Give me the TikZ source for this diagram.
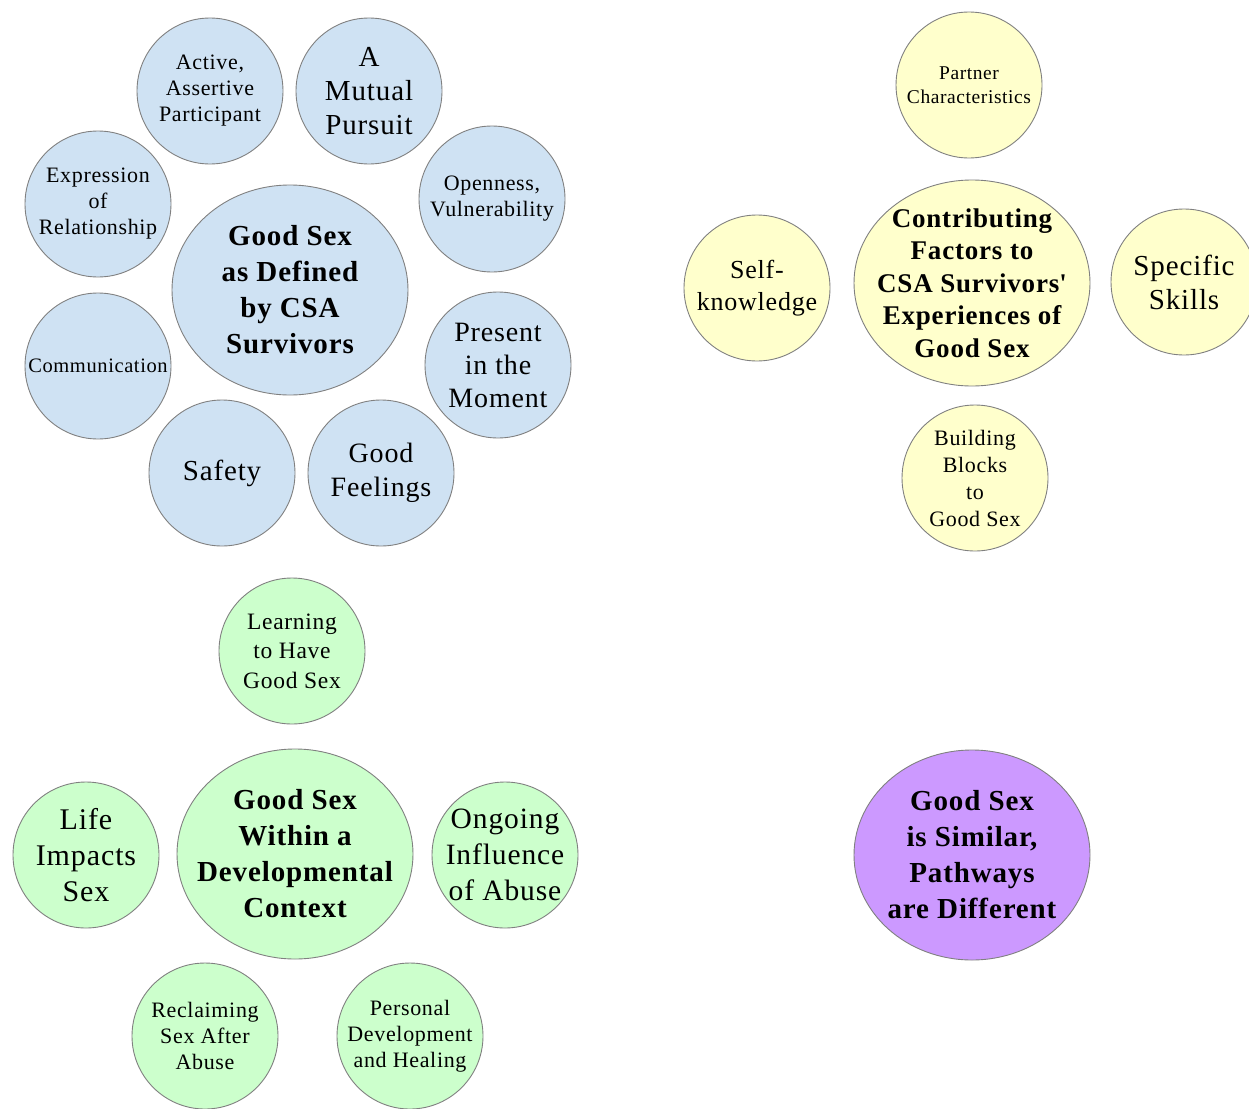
\documentclass[tikz,border=0pt]{standalone}
\usepackage{fontspec}
\setmainfont{Liberation Serif}[LetterSpace=3]
\usetikzlibrary{shapes.geometric}
\definecolor{bluefill}{RGB}{207,226,243}
\definecolor{yellowfill}{RGB}{255,255,204}
\definecolor{greenfill}{RGB}{204,255,204}
\definecolor{purplefill}{RGB}{204,153,255}
\definecolor{edgegrey}{RGB}{128,128,128}
\tikzset{
  bubble/.style={circle,draw=edgegrey,line width=0.9pt,minimum size=146pt,inner sep=-10pt,align=center,text=black},
  hub/.style={ellipse,draw=edgegrey,line width=0.9pt,minimum width=236pt,minimum height=210pt,inner xsep=-30pt,inner ysep=-30pt,align=center,font=\bfseries\fontsize{29}{36}\selectfont},
  bl/.style={fill=bluefill},
  ye/.style={fill=yellowfill},
  gr/.style={fill=greenfill},
  pu/.style={fill=purplefill},
  fs/.style={font=\fontsize{22}{26}\selectfont},
  fl/.style={font=\fontsize{29}{34}\selectfont},
}
\begin{document}
\begin{tikzpicture}[x=1pt,y=-1pt]
\useasboundingbox (0,0) rectangle (1249,1108);
% Blue group
\node[hub,bl] (bc) at (290,290) {Good Sex\\as Defined\\by CSA\\Survivors};
\node[bubble,bl,fs] (b1) at (210,91) {Active,\\Assertive\\Participant};
\node[bubble,bl,fl] (b2) at (369,91) {A\\Mutual\\Pursuit};
\node[bubble,bl,fs] (b3) at (492,199) {Openness,\\Vulnerability};
\node[bubble,bl,fs] (b4) at (98,204) {Expression\\of\\Relationship};
\node[bubble,bl,font=\fontsize{20.5}{24}\selectfont] (b5) at (98,366) {Communication};
\node[bubble,bl,font=\fontsize{28}{33}\selectfont] (b6) at (498,365) {Present\\in the\\Moment};
\node[bubble,bl,fl] (b7) at (222,473) {Safety};
\node[bubble,bl,font=\fontsize{28}{34}\selectfont] (b8) at (381,473) {Good\\Feelings};
% Yellow group
\node[hub,ye,font=\bfseries\fontsize{27}{32.5}\selectfont,minimum height=206pt] (yc) at (972,283) {Contributing\\Factors to\\CSA Survivors\textquotesingle\\Experiences of\\Good Sex};
\node[bubble,ye,font=\fontsize{19.5}{24}\selectfont] (y1) at (969,85) {Partner\\Characteristics};
\node[bubble,ye,font=\fontsize{26}{32}\selectfont] (y2) at (757,288) {Self-\\knowledge};
\node[bubble,ye,fl] (y3) at (1184,282) {Specific\\Skills};
\node[bubble,ye,font=\fontsize{22}{27}\selectfont] (y4) at (975,478) {Building\\Blocks\\to\\Good Sex};
% Green group
\node[hub,gr] (gc) at (295,854) {Good Sex\\Within a\\Developmental\\Context};
\node[bubble,gr,font=\fontsize{23.5}{29.5}\selectfont] (g1) at (292,651) {Learning\\to Have\\Good Sex};
\node[bubble,gr,font=\fontsize{30}{36}\selectfont] (g2) at (86,855) {Life\\Impacts\\Sex};
\node[bubble,gr,font=\fontsize{29.5}{36}\selectfont] (g3) at (505,855) {Ongoing\\Influence\\of Abuse};
\node[bubble,gr,fs] (g4) at (205,1036) {Reclaiming\\Sex After\\Abuse};
\node[bubble,gr,fs] (g5) at (410,1036) {Personal\\Development\\and Healing};
% Purple
\node[hub,pu] (pc) at (972,855) {Good Sex\\is Similar,\\Pathways\\are Different};
\end{tikzpicture}
\end{document}
